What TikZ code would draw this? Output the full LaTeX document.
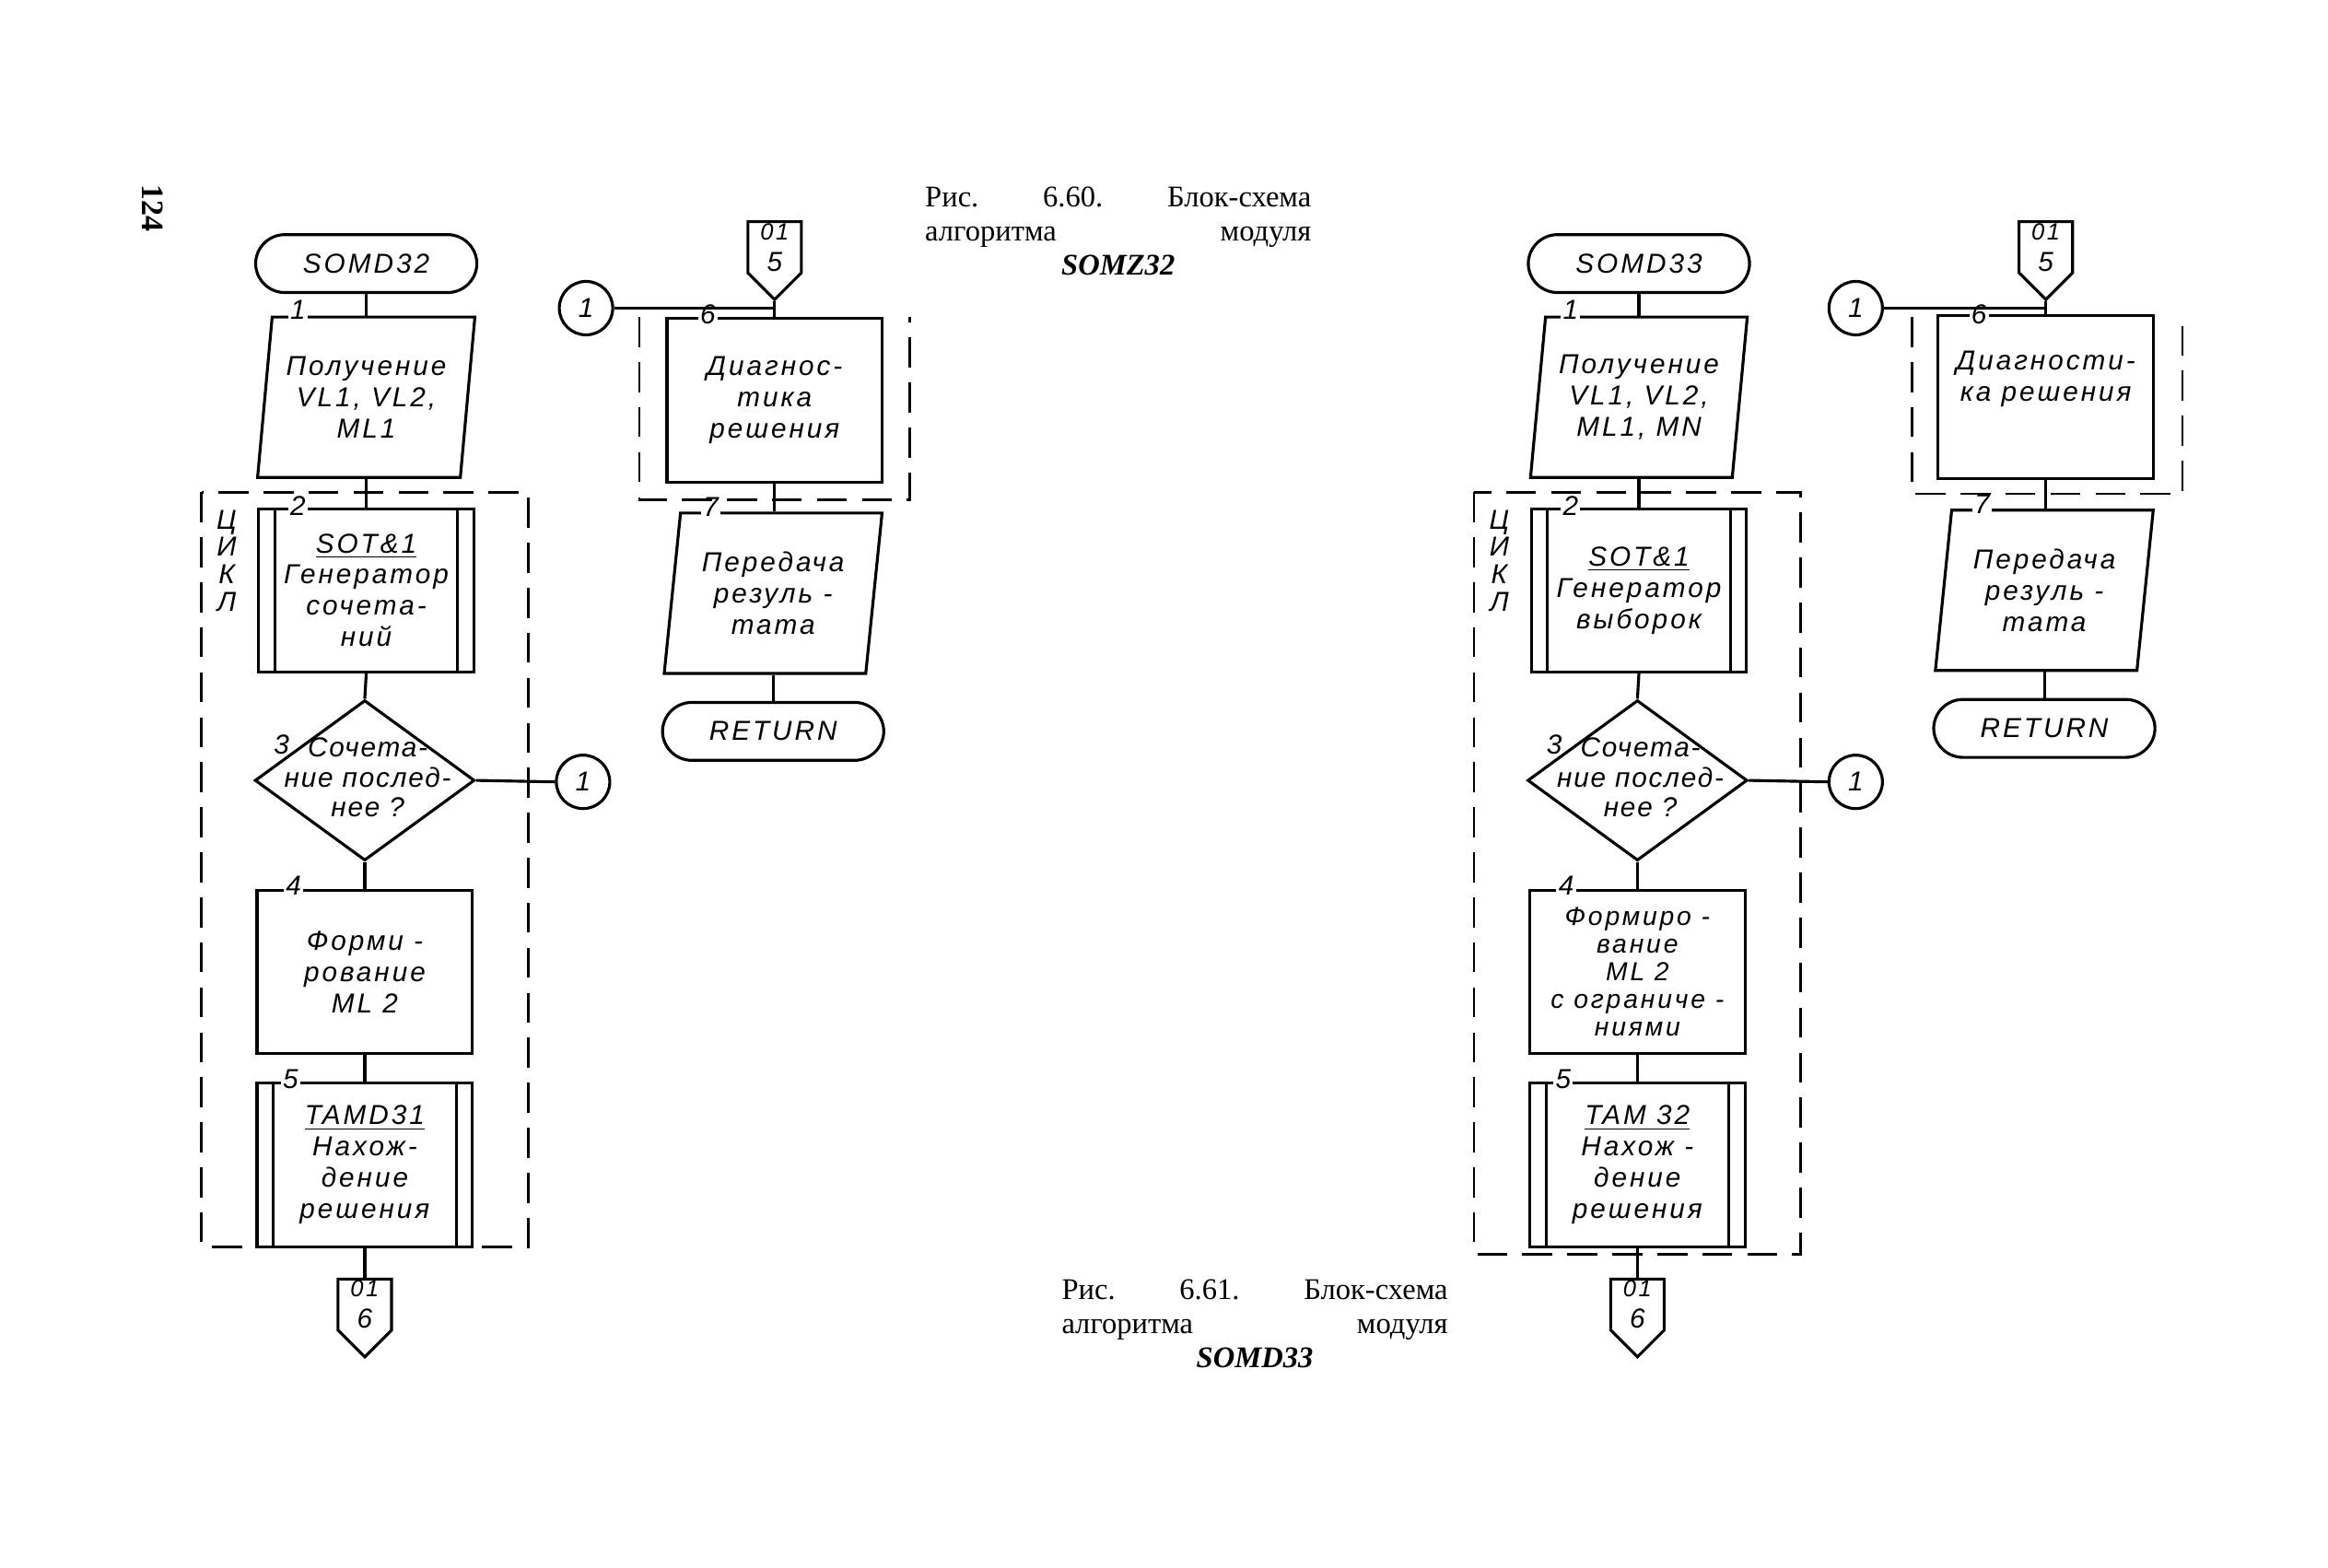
\documentclass[tikz,border=0pt]{standalone}
\usepackage{fontspec}
\setmainfont{Liberation Serif}
\newfontfamily\gostfam[LetterSpace=10]{Liberation Sans}
\newfontfamily\gostnarrow[LetterSpace=6]{Liberation Sans}
\newcommand{\gost}{\gostfam\itshape\fontsize{10.5}{12}\selectfont}
\newcommand{\gosttight}{\gostfam\itshape\fontsize{10}{10.6}\selectfont}
\newcommand{\gostdec}{\gostnarrow\itshape\fontsize{10.5}{11.5}\selectfont}
\newcommand{\gostsmall}{\gostfam\itshape\fontsize{9}{11.5}\selectfont}
\usetikzlibrary{shapes}
\usetikzlibrary{shapes.geometric}
\usetikzlibrary{shapes.symbols}

\begin{document}
\begin{tikzpicture}[x=0.2mm, y=-0.2mm, every edge/.style={draw, line width=1.1pt}]
\tikzstyle{term}=[draw, rectangle, rounded corners=3.9mm, minimum width=29.8mm, minimum height=7.8mm, line width=1.1pt, font=\gost]
\tikzstyle{data}=[draw, trapezium, trapezium left angle=81.6, trapezium right angle=98.4, trapezium stretches=true, minimum width=29.4mm, minimum height=21.6mm, inner sep=1pt, align=center, line width=1.1pt, font=\gost]
\tikzstyle{box}=[draw, rectangle, minimum width=29mm, minimum height=22mm, align=center, line width=1.1pt, font=\gost]
\tikzstyle{proc}=[box, path picture={
    \draw[line width=1.1pt] ([xshift=2.2mm]path picture bounding box.north west) -- ([xshift=2.2mm]path picture bounding box.south west);
    \draw[line width=1.1pt] ([xshift=-2.2mm]path picture bounding box.north east) -- ([xshift=-2.2mm]path picture bounding box.south east);}]
\tikzstyle{dec}=[draw, diamond, minimum width=29.6mm, minimum height=21.6mm, inner sep=0pt, line width=1.1pt]
\tikzstyle{txt}=[align=center, inner sep=0pt, font=\gost]
\tikzstyle{conn}=[draw, circle, minimum size=7.2mm, inner sep=0pt, line width=1.1pt, font=\gost]
\tikzstyle{page}=[draw, signal, signal to=south, signal pointer angle=90, minimum width=7.2mm, minimum height=8.8mm, inner sep=0pt, align=center, line width=1.1pt, font=\gost]
\tikzstyle{num}=[fill=white, inner sep=0.8pt, font=\gost]
\tikzstyle{cycbox}=[line width=0.9pt, dash pattern=on 4mm off 2mm]
\tikzstyle{capt}=[inner sep=0pt, text width=52mm, align=left, font=\fontsize{11.5}{13}\selectfont]
\useasboundingbox (0,0) rectangle (1552,1045);

% Рис. 6.60
\begin{scope}[shift={(2.6,-0.5)}, scale=0.99, transform shape]
    \node[rotate=-90, font=\bfseries\fontsize{12}{12}\selectfont] (PN) at (100,141) {124};

    \node[term] (T) at (244,178) {SOMD32};
    \node[data] (B1) at (244,268) {Получение\\VL1, VL2,\\ML1};
    \node[num] (N1) at (198,209) {1};
    \node[proc] (B2) at (244,398) {\underline{SOT\&1}\\Генератор\\сочета-\\ний};
    \node[num] (N2) at (198,341) {2};
    \node[dec] (D3) at (243,526) {};
    \node[txt, font=\gostdec] (Q3) at (245,524) {Сочета-\\ние послед-\\нее ?};
    \node[txt] (N3) at (187,502) {3};
    \node[conn] (C3) at (390,527) {1};
    \node[box] (B4) at (243,655) {Форми -\\рование\\ML 2};
    \node[num] (N4) at (195,597) {4};
    \node[proc] (B5) at (243,785) {\underline{TAMD31}\\Нахож-\\дение\\решения};
    \node[num] (N5) at (193,727) {5};
    \node[page] (P6) at (243,879) {{\gostsmall 01}\\6};
    \node[txt, font=\gostfam\itshape\fontsize{10.5}{10.5}\selectfont] (L) at (150,378) {Ц\\И\\К\\Л};
    \draw[cycbox] (133,332) rectangle (353,840);
    \path [-] (T.south) edge (T.south |- B1.north);
    \path [-] (B2.north |- B1.south) edge (B2.north);
    \path [-] (B2.south) edge (D3.north);
    \path [-] (D3.south) edge (B4.north);
    \path [-] (B4.south) edge (B5.north);
    \path [-] (B5.south) edge (P6.north);
    \path [-] (D3.east) edge (C3.west);

    \node[page] (P5) at (519,167) {{\gostsmall 01}\\5};
    \node[conn] (C1) at (392,208) {1};
    \node[box] (B6) at (519,270) {Диагнос-\\тика\\решения};
    \node[num] (N6) at (474,212) {6};
    \node[data] (B7) at (518,400) {Передача\\резуль -\\тата};
    \node[num] (N7) at (476,342) {7};
    \node[term] (R) at (518,493) {RETURN};
    \draw[cycbox] (428,214) |- (610,337) -- (610,214);
    \path [-] (P5.south) edge (P5.south |- B6.north);
    \path [-] (C1.east) edge (C1.east -| P5.south);
    \path [-] (B6.south) edge (B6.south |- B7.north);
    \path [-] (R.north |- B7.south) edge (R.north);

    \node[capt, anchor=north west] (K1) at (620,126) {Рис.\hfill 6.60.\hfill Блок-схема\\алгоритма\hfill модуля\\\hspace*{\fill}\textbf{\textit{SOMZ32}}\hspace*{\fill}\mbox{}};
\end{scope}

% Рис. 6.61
\begin{scope}[shift={(2.6,-0.5)}, scale=0.99, transform shape]
    \node[term] (T) at (244+857,178) {SOMD33};
    \node[data] (B1) at (244+857,268) {Получение\\VL1, VL2,\\ML1, MN};
    \node[num] (N1) at (198+857,209) {1};
    \node[proc] (B2) at (244+857,398) {\underline{SOT\&1}\\Генератор\\выборок};
    \node[num] (N2) at (198+857,341) {2};
    \node[dec] (D3) at (243+857,526) {};
    \node[txt, font=\gostdec] (Q3) at (245+857,524) {Сочета-\\ние послед-\\нее ?};
    \node[txt] (N3) at (187+857,502) {3};
    \node[conn] (C3) at (390+857,527) {1};
    \node[box, font=\gosttight] (B4) at (243+857,655) {Формиро -\\вание\\ML 2\\с ограниче -\\ниями};
    \node[num] (N4) at (195+857,597) {4};
    \node[proc] (B5) at (243+857,785) {\underline{TAM 32}\\Нахож -\\дение\\решения};
    \node[num] (N5) at (193+857,727) {5};
    \node[page] (P6) at (243+857,879) {{\gostsmall 01}\\6};
    \node[txt, font=\gostfam\itshape\fontsize{10.5}{10.5}\selectfont] (L) at (150+857,378) {Ц\\И\\К\\Л};
    \draw[cycbox] (133+857,332) rectangle (353+857,845);
    \path [-] (T.south) edge (T.south |- B1.north);
    \path [-] (B2.north |- B1.south) edge (B2.north);
    \path [-] (B2.south) edge (D3.north);
    \path [-] (D3.south) edge (B4.north);
    \path [-] (B4.south) edge (B5.north);
    \path [-] (B5.south) edge (P6.north);
    \path [-] (D3.east) edge (C3.west);

    \node[page] (P5) at (518+857,167) {{\gostsmall 01}\\5};
    \node[conn] (C1) at (390+857,208) {1};
    \node[box] (B6) at (518+857,268) {Диагности-\\ка решения\\[4pt]~};
    \node[num] (N6) at (473+857,212) {6};
    \node[data] (B7) at (517+857,398) {Передача\\резуль -\\тата};
    \node[num] (N7) at (475+857,340) {7};
    \node[term] (R) at (517+857,491) {RETURN};
    \draw[cycbox] (428+857,214) |- (610+857,333) -- (610+857,214);
    \path [-] (P5.south) edge (P5.south |- B6.north);
    \path [-] (C1.east) edge (C1.east -| P5.south);
    \path [-] (B6.south) edge (B6.south |- B7.north);
    \path [-] (R.north |- B7.south) edge (R.north);

    \node[capt, anchor=north west] (K2) at (712,862) {Рис.\hfill 6.61.\hfill Блок-схема\\алгоритма\hfill модуля\\\hspace*{\fill}\textbf{\textit{SOMD33}}\hspace*{\fill}\mbox{}};
\end{scope}
\end{tikzpicture}
\end{document}
